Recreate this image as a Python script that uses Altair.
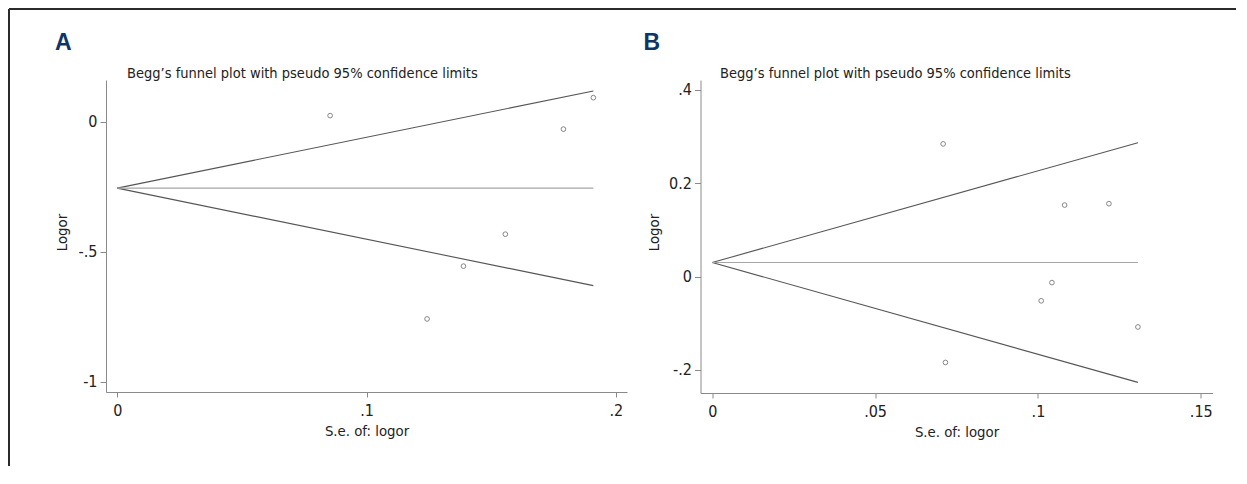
import altair as alt
import pandas as pd

FONT = "DejaVu Sans Condensed, Liberation Sans Narrow, sans-serif"
TITLE = "Begg’s funnel plot with pseudo 95% confidence limits"

# Panel A data
a_se = [0.0854, 0.1243, 0.1389, 0.1557, 0.1790, 0.1910]
a_logor = [0.023, -0.759, -0.556, -0.433, -0.029, 0.092]
a_line_se = [0.0, 0.191]
a_upper = [-0.256, 0.118]
a_lower = [-0.256, -0.631]
a_center = [-0.256, -0.256]
a_xticks = [0, 0.1, 0.2]
a_xlabels = ["0", ".1", ".2"]
a_yticks = [-1, -0.5, 0]
a_ylabels = ["-1", "-.5", "0"]

# Panel B data
b_se = [0.0709, 0.0716, 0.1010, 0.1043, 0.1082, 0.1218, 0.1307]
b_logor = [0.284, -0.184, -0.052, -0.013, 0.153, 0.156, -0.108]
b_line_se = [0.0, 0.1307]
b_upper = [0.030, 0.2866]
b_lower = [0.030, -0.2267]
b_center = [0.030, 0.030]
b_xticks = [0, 0.05, 0.1, 0.15]
b_xlabels = ["0", ".05", ".1", ".15"]
b_yticks = [-0.2, 0, 0.2, 0.4]
b_ylabels = ["-.2", "0", "0.2", ".4"]


def label_expr(ticks, labels):
    parts = [f"abs(datum.value - ({t})) < 1e-6 ? '{l}'" for t, l in zip(ticks, labels)]
    return " : ".join(parts) + " : ''"


def panel(letter, se, logor, line_se, upper, lower, center,
          xticks, xlabels, yticks, ylabels, xdom, ydom,
          width, height, letter_x, title_x, ytitle_x, frame=False):
    pts = pd.DataFrame({"se": se, "logor": logor})
    funnel = pd.DataFrame({
        "se": line_se + line_se,
        "logor": upper + lower,
        "side": ["upper"] * len(line_se) + ["lower"] * len(line_se),
    })
    mid = pd.DataFrame({"se": line_se, "logor": center})

    xaxis = alt.Axis(values=xticks, labelExpr=label_expr(xticks, xlabels),
                     title="S.e. of: logor", grid=False,
                     domainColor="#8a8a8a", tickColor="#8a8a8a", tickSize=5,
                     labelPadding=5, labelFont=FONT, labelFontSize=16,
                     labelColor="#222222", labelFlush=False, labelOverlap=False,
                     titleFont=FONT, titleFontSize=14.8, titleFontWeight="normal",
                     titleColor="#222222", titleY=43, titleBaseline="alphabetic")
    yaxis = alt.Axis(values=yticks, labelExpr=label_expr(yticks, ylabels),
                     title="Logor", grid=False,
                     domainColor="#8a8a8a", tickColor="#8a8a8a", tickSize=6,
                     labelPadding=3, labelFont=FONT, labelFontSize=16,
                     labelColor="#222222", labelFlush=False, labelOverlap=False,
                     titleFont=FONT, titleFontSize=14.8, titleFontWeight="normal",
                     titleColor="#222222", titleX=ytitle_x, titleY=152,
                     titleBaseline="middle", titleAlign="center", titleAngle=270)
    xs = alt.Scale(domain=xdom, nice=False, zero=False)
    ys = alt.Scale(domain=ydom, nice=False, zero=False)

    lines = alt.Chart(funnel).mark_line(color="#555555", strokeWidth=1.1).encode(
        x=alt.X("se:Q", scale=xs, axis=xaxis),
        y=alt.Y("logor:Q", scale=ys, axis=yaxis),
        detail="side:N",
    )
    centre = alt.Chart(mid).mark_line(color="#a6a6a6", strokeWidth=1.2).encode(
        x=alt.X("se:Q", scale=xs), y=alt.Y("logor:Q", scale=ys)
    )
    points = alt.Chart(pts).mark_point(shape="circle", filled=False, size=22,
                                       strokeWidth=1, color="#555555").encode(
        x=alt.X("se:Q", scale=xs), y=alt.Y("logor:Q", scale=ys)
    )
    ttl = alt.Chart(pd.DataFrame({"t": [TITLE]})).mark_text(
        align="left", baseline="alphabetic", font=FONT, fontSize=14.5, color="#222222"
    ).encode(x=alt.value(title_x), y=alt.value(-2), text="t:N")
    lab = alt.Chart(pd.DataFrame({"t": [letter]})).mark_text(
        align="left", baseline="alphabetic", font="Liberation Sans", fontSize=23,
        fontWeight="bold", color="#0d3566"
    ).encode(x=alt.value(letter_x), y=alt.value(-30), text="t:N")

    layers = [lines, centre, points, ttl, lab]
    if frame:
        one = pd.DataFrame({"k": [0]})
        top = alt.Chart(one).mark_rule(color="#2b2b2b", strokeWidth=2).encode(
            x=alt.value(-97), x2=alt.value(1130), y=alt.value(-71))
        left = alt.Chart(one).mark_rule(color="#2b2b2b", strokeWidth=2).encode(
            x=alt.value(-97), y=alt.value(-71), y2=alt.value(386))
        layers = [top, left] + layers
    return alt.layer(*layers).properties(width=width, height=height)


pa = panel("A", a_se, a_logor, a_line_se, a_upper, a_lower, a_center,
           a_xticks, a_xlabels, a_yticks, a_ylabels,
           [-0.0045, 0.2045], [-1.04, 0.16], 521, 312,
           letter_x=-51, title_x=21, ytitle_x=-44, frame=True)
pb = panel("B", b_se, b_logor, b_line_se, b_upper, b_lower, b_center,
           b_xticks, b_xlabels, b_yticks, b_ylabels,
           [-0.0036, 0.1536], [-0.2494, 0.4208], 512, 313,
           letter_x=-57, title_x=19.5, ytitle_x=-46)

chart = alt.hconcat(pa, pb, spacing=73.5, bounds="flush").properties(
    padding=0, background="white"
).configure_view(stroke=None)

chart.save("out.html", embed_options={"renderer": "svg", "actions": False})
